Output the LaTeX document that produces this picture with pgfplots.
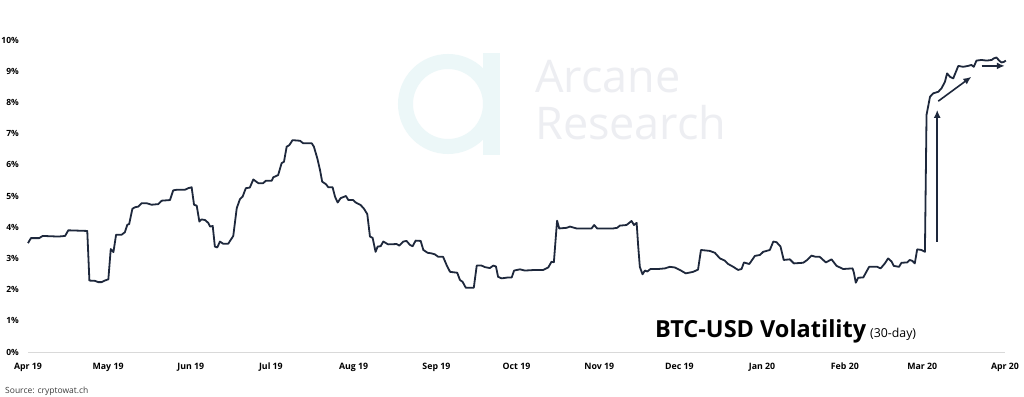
\documentclass[border=0pt]{standalone}
\usepackage{fontspec}
\setmainfont{Open Sans}
\usepackage{pgfplots}
\pgfplotsset{compat=1.18}
\usetikzlibrary{arrows.meta}
\definecolor{navy}{RGB}{30,40,60}
\definecolor{wmtext}{RGB}{237,238,242}
\definecolor{wmlogo}{RGB}{236,247,248}
\definecolor{axisgrey}{RGB}{217,217,217}
\definecolor{srcgrey}{RGB}{60,60,60}
\begin{document}
\begin{tikzpicture}[x=1pt,y=1pt]
\path[use as bounding box, fill=white] (0,0) rectangle (1024,396);
% watermark
\draw[wmlogo, line width=15pt] (448,292) circle (42.5);
\fill[wmlogo] (483,241) rectangle (500,343);
\node[anchor=base west, inner sep=0pt, text=wmtext, font=\fontsize{45}{50}\selectfont] at (535,303) {Arcane};
\node[anchor=base west, inner sep=0pt, text=wmtext, font=\fontsize{45}{50}\selectfont] at (535,256) {Research};
\begin{axis}[
  at={(28pt,44pt)}, anchor=origin,
  scale only axis, width=977pt, height=312pt,
  xmin=0, xmax=366, ymin=0, ymax=10,
  clip=false,
  axis lines*=left,
  axis line style={-},
  y axis line style={draw=none},
  x axis line style={draw=axisgrey, line width=1pt},
  major tick length=0pt,
  tick style={draw=none},
  xtick={0,30,61,91,122,153,183,214,244,275,306,335,366},
  xticklabels={Apr 19,May 19,Jun 19,Jul 19,Aug 19,Sep 19,Oct 19,Nov 19,Dec 19,Jan 20,Feb 20,Mar 20,Apr 20},
  ytick={0,1,2,3,4,5,6,7,8,9,10},
  yticklabels={0\%,1\%,2\%,3\%,4\%,5\%,6\%,7\%,8\%,9\%,10\%},
  xticklabel style={anchor=base, inner sep=0pt, yshift=-17pt, font=\fontsize{8.8}{10}\selectfont\bfseries},
  yticklabel style={anchor=east, inner sep=0pt, xshift=-9pt, font=\fontsize{8.5}{10}\selectfont\bfseries},
]
\addplot[navy, line width=1.8pt, line join=round] coordinates {
(0,3.49) (1.1,3.65) (4.2,3.65) (5.5,3.72) (11.4,3.70) (13.9,3.72) (15.1,3.90) (22.2,3.88)
(23.0,2.29) (25.1,2.28) (26.3,2.24) (27.6,2.24) (28.8,2.29) (30.1,2.33) (31,3.30) (32,3.20)
(33,3.76) (35.1,3.76) (36.3,3.84) (37.2,4.08) (37.9,4.10) (39.1,4.59) (40.1,4.64) (41.3,4.66)
(42.6,4.77) (44.4,4.77) (46.3,4.72) (48.8,4.74) (50.1,4.85) (53.2,4.87) (54.4,5.18) (55.7,5.20)
(58.8,5.20) (60,5.25) (61.3,5.28) (62.2,4.72) (63.2,4.69) (64.2,4.18) (65,4.25) (66.3,4.23)
(67.5,4.14) (68.2,4.02) (69.2,4.04) (70,3.38) (70.9,3.35) (71.9,3.54) (73.1,3.47) (75,3.47)
(76.9,3.72) (78.2,4.61) (79.4,4.90) (80.4,4.98) (81.6,5.25) (83.1,5.27) (84.4,5.53) (86.3,5.41)
(88.1,5.41) (89.1,5.49) (91.3,5.49) (91.9,5.60) (93.7,5.67) (95.0,6.05) (95.9,6.10) (96.9,6.58)
(97.9,6.63) (99.1,6.79) (101.9,6.77) (103.1,6.69) (106.3,6.69) (107.1,6.58) (108.4,6.20) (109.4,5.83)
(110.2,5.46) (111.6,5.38) (112.5,5.28) (114.1,5.28) (115,4.98) (116,4.79) (117.1,4.93) (119.1,5.00)
(120,4.87) (121.8,4.87) (122.8,4.79) (124.6,4.71) (125.8,4.60) (127.1,4.42) (128.1,3.70) (129.1,3.66)
(130.2,3.21) (131,3.38) (132.1,3.39) (133.1,3.54) (134.9,3.45) (138.1,3.46) (139.1,3.41) (140.6,3.54)
(141.8,3.56) (143.1,3.43) (144.1,3.39) (145.2,3.57) (147.1,3.56) (148.1,3.27) (149.7,3.18) (151.2,3.16)
(152.4,3.13) (153.7,3.05) (155.5,3.05) (156.8,2.79) (158.1,2.57) (160.8,2.54) (161.8,2.31) (162.8,2.25)
(164,2.06) (167,2.06) (168.1,2.77) (169.9,2.77) (171.2,2.72) (173,2.69) (174.3,2.77) (175.3,2.74)
(176.1,2.41) (177.4,2.36) (179.9,2.39) (181.2,2.39) (182.1,2.61) (184.3,2.65) (186.1,2.61) (189.9,2.63)
(193,2.63) (194.9,2.71) (196.1,2.89) (197,2.88) (198.2,4.21) (199,3.96) (201.8,3.98) (203,4.02)
(205.5,3.96) (211.1,3.96) (212.1,4.07) (213.2,3.96) (219.2,3.96) (220.7,3.98) (221.7,4.05) (224.2,4.07)
(226.1,4.20) (227,4.07) (228,4.14) (228.6,3.38) (229.2,2.73) (230.2,2.49) (231.1,2.61) (232,2.58)
(233.2,2.66) (236.1,2.66) (238.6,2.68) (240.4,2.73) (242.3,2.71) (244.2,2.63) (246.4,2.52) (249.2,2.57)
(251,2.64) (252.1,3.27) (255.4,3.24) (257.3,3.18) (259.2,3.00) (261,2.93) (262.3,2.82) (264.2,2.73)
(266,2.63) (267.3,2.66) (268.2,2.87) (270.2,2.82) (272.3,3.08) (274.2,3.11) (275.4,3.21) (277.9,3.27)
(279.2,3.54) (280.4,3.52) (281.9,3.38) (283.1,2.95) (285.4,2.97) (286.9,2.84) (290.4,2.86) (291.9,2.95)
(293.5,3.09) (295.1,3.05) (296.6,3.05) (298.9,2.87) (301,2.97) (302.9,2.76) (305.4,2.66) (308.9,2.68)
(309.4,2.54) (310.1,2.22) (311,2.38) (312.9,2.39) (315.1,2.73) (318.1,2.73) (319.4,2.68) (321,2.84)
(322.2,3.00) (323.5,2.90) (324.3,2.76) (326.3,2.73) (327.2,2.86) (329.3,2.87) (330.3,2.95) (331.3,2.92)
(332.2,2.84) (333.1,3.29) (334.7,3.27) (336,3.21) (336.6,7.60) (337.9,8.18) (339.1,8.29) (341,8.34)
(342.2,8.45) (343.5,8.66) (344.3,8.93) (345.4,8.82) (346.6,8.77) (347.6,8.98) (348.5,9.17) (350.3,9.14)
(352.2,9.17) (353.4,9.20) (354.3,9.14) (355.3,9.34) (357.2,9.36) (359.1,9.34) (361,9.36) (361.8,9.41)
(362.8,9.44) (363.8,9.34) (364.7,9.28) (365.6,9.30) (366.3,9.34)
};
\addplot[navy, line width=1.6pt, -{Latex[length=8pt,width=7pt]}] coordinates {(340.6,3.54) (340.6,7.76)};
\addplot[navy, line width=1.6pt, -{Latex[length=8pt,width=7pt]}] coordinates {(341.0,8.04) (353.4,8.82)};
\addplot[navy, line width=1.6pt, -{Latex[length=8pt,width=7pt]}] coordinates {(357.2,9.17) (365.9,9.17)};
\end{axis}
\node[anchor=base west, inner sep=0pt, font=\fontsize{23.5}{28}\selectfont\bfseries] at (655,59) {BTC-USD Volatility};
\node[anchor=base west, inner sep=0pt, font=\fontsize{12.3}{14}\selectfont] at (870,59) {(30-day)};
\node[anchor=base west, inner sep=0pt, text=srcgrey, font=\fontsize{8.5}{10}\selectfont] at (5,3) {Source: cryptowat.ch};
\end{tikzpicture}
\end{document}
